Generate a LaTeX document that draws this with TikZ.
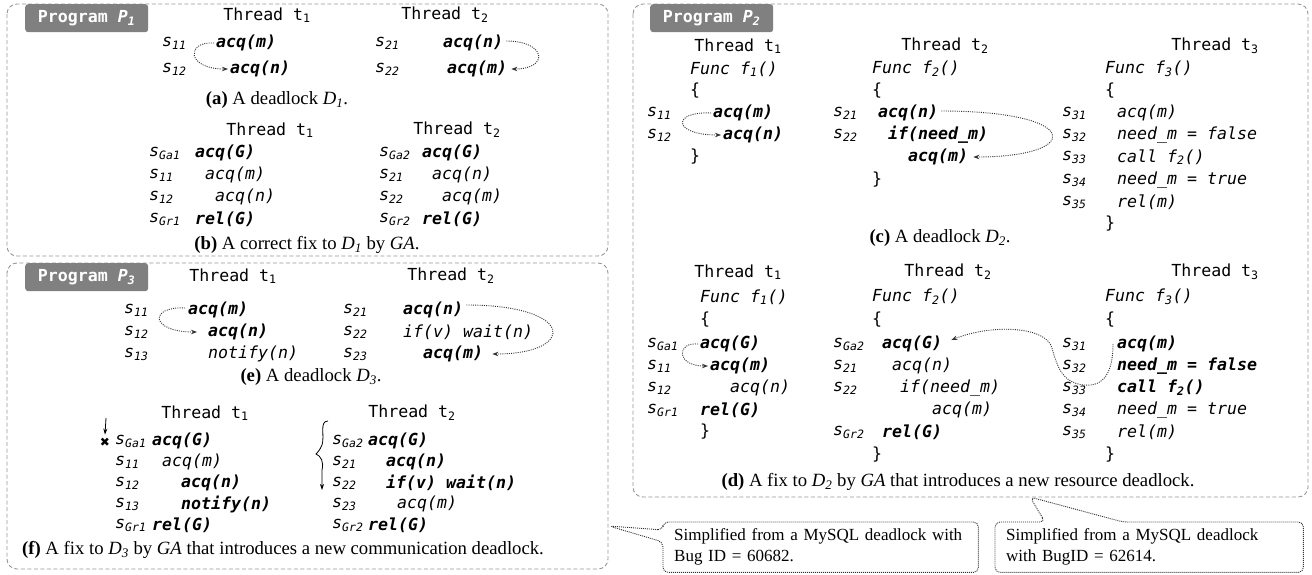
\documentclass[tikz,border=0pt]{standalone}
\usepackage{fontspec}
\setmainfont{Liberation Serif}
\setmonofont{DejaVu Sans Mono}
\newfontfamily\symbfont{DejaVu Sans}
\usetikzlibrary{arrows.meta,calc}

\definecolor{tagGray}{RGB}{128,128,128}
\definecolor{frameGray}{RGB}{150,150,150}
\definecolor{dotGray}{RGB}{50,50,50}

\newcommand\codesize{\fontsize{16.6}{20}\selectfont}
\newcommand\cdS[1]{\textit{s}\raisebox{-3pt}{\fontsize{11.5}{12}\selectfont\itshape #1}}
\newcommand\cdB[1]{\textbf{\textit{#1}}}
\newcommand\cdI[1]{\textit{#1}}
\newcommand\thrd[1]{Thread t\textsubscript{#1}}
\newcommand\sbi[2]{\textit{#1}\textsubscript{\textit{#2}}}

\tikzset{
  panelbox/.style={draw=frameGray, line width=0.9pt, dash pattern=on 4pt off 2.5pt, rounded corners=10pt},
  tagbox/.style={fill=tagGray, text=white, rounded corners=3pt, font=\ttfamily\codesize\bfseries,
    minimum width=123pt, minimum height=28pt, anchor=north west, inner sep=0pt},
  codenode/.style={font=\ttfamily\codesize, inner sep=0pt, anchor=west},
  thnode/.style={font=\ttfamily\codesize, inner sep=0pt},
  capnode/.style={font=\fontsize{18.7}{22}\selectfont, inner sep=0pt},
  dep/.style={draw=dotGray, line width=0.9pt, dash pattern=on 1pt off 1.2pt, -{Stealth[length=6pt,width=4.5pt]}},
  ptr/.style={draw=black, line width=0.8pt, -{Stealth[length=6pt,width=4pt]}},
  notebox/.style={font=\fontsize{17}{21}\selectfont, align=left, anchor=north west, inner xsep=11pt,
    inner ysep=0pt},
  noteline/.style={draw=dotGray, line width=0.9pt, dash pattern=on 1pt off 1pt, rounded corners=5pt},
}

\begin{document}
\begin{tikzpicture}[x=1pt,y=-1pt]
\useasboundingbox (0,0) rectangle (1312,574);

% ================= Program P1 =================
\draw[panelbox] (7,4) rectangle (608,256);
\node[tagbox] (tagA) at (25,4) {Program \sbi{P}{1}};

% (a) deadlock D1
\node[thnode] (a-th1) at (267,15) {\thrd{1}};
\node[thnode] (a-th2) at (445,15) {\thrd{2}};
\node[codenode] (a-s11) at (162,43) {\cdS{11}};
\node[codenode] (a-s12) at (162,69) {\cdS{12}};
\node[codenode] (a-m1) at (216,43) {\cdB{acq(m)}};
\node[codenode] (a-n1) at (230,69) {\cdB{acq(n)}};
\node[codenode] (a-s21) at (375,43) {\cdS{21}};
\node[codenode] (a-s22) at (375,69) {\cdS{22}};
\node[codenode] (a-n2) at (443,43) {\cdB{acq(n)}};
\node[codenode] (a-m2) at (447,69) {\cdB{acq(m)}};
\draw[dep] ([xshift=-2pt]a-m1.west) .. controls +(-28,-2) and +(-42,0) .. ([xshift=-2pt]a-n1.west);
\draw[dep] ([xshift=3pt,yshift=2pt]a-n2.east) .. controls +(40,0) and +(38,0) .. ([xshift=4pt]a-m2.east);
\node[capnode] (a-cap) at (277,100) {\textbf{(a)} A deadlock \textit{D}\textsubscript{\textit{1}}.};

% (b) correct fix by GA
\node[thnode] (b-th1) at (270,130) {\thrd{1}};
\node[thnode] (b-th2) at (457,130) {\thrd{2}};
\node[codenode] (b-sa1) at (149,153) {\cdS{Ga1}};
\node[codenode] (b-s11) at (149,175) {\cdS{11}};
\node[codenode] (b-s12) at (149,197) {\cdS{12}};
\node[codenode] (b-sr1) at (149,219) {\cdS{Gr1}};
\node[codenode] (b-g1) at (195,153) {\cdB{acq(G)}};
\node[codenode] (b-m1) at (205,175) {\cdI{acq(m)}};
\node[codenode] (b-n1) at (215,197) {\cdI{acq(n)}};
\node[codenode] (b-r1) at (195,219) {\cdB{rel(G)}};
\node[codenode] (b-sa2) at (379,153) {\cdS{Ga2}};
\node[codenode] (b-s21) at (379,175) {\cdS{21}};
\node[codenode] (b-s22) at (379,197) {\cdS{22}};
\node[codenode] (b-sr2) at (379,219) {\cdS{Gr2}};
\node[codenode] (b-g2) at (422,153) {\cdB{acq(G)}};
\node[codenode] (b-n2) at (432,175) {\cdI{acq(n)}};
\node[codenode] (b-m2) at (442,197) {\cdI{acq(m)}};
\node[codenode] (b-r2) at (422,219) {\cdB{rel(G)}};
\node[capnode] (b-cap) at (307,245) {\textbf{(b)} A correct fix to \textit{D}\textsubscript{\textit{1}} by \textit{GA}.};

% ================= Program P3 =================
\draw[panelbox] (7,263) rectangle (608,569);
\node[tagbox] (tagC) at (25,263) {Program \sbi{P}{3}};

% (e) deadlock D3
\node[thnode] (e-th1) at (233,276) {\thrd{1}};
\node[thnode] (e-th2) at (451,276) {\thrd{2}};
\node[codenode] (e-s11) at (124,310) {\cdS{11}};
\node[codenode] (e-s12) at (124,332) {\cdS{12}};
\node[codenode] (e-s13) at (124,354) {\cdS{13}};
\node[codenode] (e-m1) at (188,310) {\cdB{acq(m)}};
\node[codenode] (e-n1) at (208,332) {\cdB{acq(n)}};
\node[codenode] (e-nt) at (208,354) {\cdI{notify(n)}};
\node[codenode] (e-s21) at (343,310) {\cdS{21}};
\node[codenode] (e-s22) at (343,332) {\cdS{22}};
\node[codenode] (e-s23) at (343,354) {\cdS{23}};
\node[codenode] (e-n2) at (403,310) {\cdB{acq(n)}};
\node[codenode] (e-wt) at (403,332) {\cdI{if(v) wait(n)}};
\node[codenode] (e-m2) at (423,354) {\cdB{acq(m)}};
\draw[dep] ([xshift=-3pt,yshift=2pt]e-m1.west) .. controls +(-36,-2) and +(-47,0) .. ([xshift=-11pt]e-n1.west);
\draw[dep] ([xshift=3pt,yshift=5pt]e-n2.east) .. controls +(110,0) and +(84,0) .. ([xshift=9pt]e-m2.east);
\node[capnode] (e-cap) at (311,377) {\textbf{(e)} A deadlock \textit{D}\textsubscript{\textit{3}}.};

% (f) fix by GA introducing a communication deadlock
\node[thnode] (f-th1) at (205,413) {\thrd{1}};
\node[thnode] (f-th2) at (412,413) {\thrd{2}};
\node[font=\symbfont\fontsize{12}{12}\selectfont, inner sep=0pt] (f-x) at (105,442) {✖};
\coordinate (f-dn) at (106,418);
\draw[ptr] (f-dn) -- ([yshift=3pt]f-x.north);
\node[codenode] (f-sa1) at (115,441) {\cdS{Ga1}};
\node[codenode] (f-s11) at (115,462) {\cdS{11}};
\node[codenode] (f-s12) at (115,483) {\cdS{12}};
\node[codenode] (f-s13) at (115,504) {\cdS{13}};
\node[codenode] (f-sr1) at (115,525) {\cdS{Gr1}};
\node[codenode] (f-g1) at (152,441) {\cdB{acq(G)}};
\node[codenode] (f-m1) at (162,462) {\cdI{acq(m)}};
\node[codenode] (f-n1) at (181,483) {\cdB{acq(n)}};
\node[codenode] (f-nt) at (181,504) {\cdB{notify(n)}};
\node[codenode] (f-r1) at (152,525) {\cdB{rel(G)}};
\node[codenode] (f-sa2) at (332,441) {\cdS{Ga2}};
\node[codenode] (f-s21) at (332,462) {\cdS{21}};
\node[codenode] (f-s22) at (332,483) {\cdS{22}};
\node[codenode] (f-s23) at (332,504) {\cdS{23}};
\node[codenode] (f-sr2) at (332,525) {\cdS{Gr2}};
\node[codenode] (f-g2) at (368,441) {\cdB{acq(G)}};
\node[codenode] (f-n2) at (386,462) {\cdB{acq(n)}};
\node[codenode] (f-wt) at (386,483) {\cdB{if(v) wait(n)}};
\node[codenode] (f-m2) at (397,504) {\cdI{acq(m)}};
\node[codenode] (f-r2) at (368,525) {\cdB{rel(G)}};
\coordinate (f-wv) at (328,421);
\coordinate (f-wv-end) at (322,490);
\draw[ptr] (f-wv) .. controls (319,421) and (325,436) .. (322,445)
  .. controls (320,450) and (317,453) .. (316,454)
  .. controls (321,456) and (324,462) .. (322,470) -- (f-wv-end);
\node[capnode] (f-cap) at (283,550) {\textbf{(f)} A fix to \textit{D}\textsubscript{\textit{3}} by \textit{GA} that introduces a new communication deadlock.};

% ================= Program P2 =================
\draw[panelbox] (633,4) rectangle (1308,497);
\node[tagbox] (tagB) at (650,4) {Program \sbi{P}{2}};

% (c) deadlock D2
\node[thnode] (c-th1) at (738,46) {\thrd{1}};
\node[thnode] (c-th2) at (945,46) {\thrd{2}};
\node[thnode] (c-th3) at (1215,46) {\thrd{3}};
% thread t1
\node[codenode] (c1-fn) at (690,69) {\cdI{Func \sbi{f}{1}()}};
\node[codenode] (c1-ob) at (690,91) {\{};
\node[codenode] (c1-s11) at (647,113) {\cdS{11}};
\node[codenode] (c1-s12) at (647,135) {\cdS{12}};
\node[codenode] (c1-m) at (713,113) {\cdB{acq(m)}};
\node[codenode] (c1-n) at (723,135) {\cdB{acq(n)}};
\node[codenode] (c1-cb) at (690,157) {\}};
\draw[dep] ([xshift=-2pt]c1-m.west) .. controls +(-39,-2) and +(-49,0) .. ([xshift=-2pt]c1-n.west);
% thread t2
\node[codenode] (c2-fn) at (872,69) {\cdI{Func \sbi{f}{2}()}};
\node[codenode] (c2-ob) at (872,91) {\{};
\node[codenode] (c2-s21) at (833,113) {\cdS{21}};
\node[codenode] (c2-s22) at (833,135) {\cdS{22}};
\node[codenode] (c2-n) at (878,113) {\cdB{acq(n)}};
\node[codenode] (c2-if) at (888,135) {\cdB{if(need\_m)}};
\node[codenode] (c2-m) at (908,157) {\cdB{acq(m)}};
\node[codenode] (c2-cb) at (872,180) {\}};
\draw[dep] ([xshift=3pt,yshift=2pt]c2-n.east) .. controls +(142,0) and +(110,0) .. ([xshift=5pt]c2-m.east);
% thread t3
\node[codenode] (c3-fn) at (1105,69) {\cdI{Func \sbi{f}{3}()}};
\node[codenode] (c3-ob) at (1105,91) {\{};
\node[codenode] (c3-s31) at (1062,113) {\cdS{31}};
\node[codenode] (c3-s32) at (1062,135) {\cdS{32}};
\node[codenode] (c3-s33) at (1062,157) {\cdS{33}};
\node[codenode] (c3-s34) at (1062,180) {\cdS{34}};
\node[codenode] (c3-s35) at (1062,202) {\cdS{35}};
\node[codenode] (c3-1) at (1117,113) {\cdI{acq(m)}};
\node[codenode] (c3-2) at (1117,135) {\cdI{need\_m = false}};
\node[codenode] (c3-3) at (1117,157) {\cdI{call \sbi{f}{2}()}};
\node[codenode] (c3-4) at (1117,180) {\cdI{need\_m = true}};
\node[codenode] (c3-5) at (1117,202) {\cdI{rel(m)}};
\node[codenode] (c3-cb) at (1105,224) {\}};
\node[capnode] (c-cap) at (940,238) {\textbf{(c)} A deadlock \textit{D}\textsubscript{\textit{2}}.};

% (d) fix by GA introducing a resource deadlock
\node[thnode] (d-th1) at (738,272) {\thrd{1}};
\node[thnode] (d-th2) at (948,272) {\thrd{2}};
\node[thnode] (d-th3) at (1215,272) {\thrd{3}};
% thread t1
\node[codenode] (d1-fn) at (700,297) {\cdI{Func \sbi{f}{1}()}};
\node[codenode] (d1-ob) at (700,320) {\{};
\node[codenode] (d1-sa1) at (647,344) {\cdS{Ga1}};
\node[codenode] (d1-s11) at (647,366) {\cdS{11}};
\node[codenode] (d1-s12) at (647,388) {\cdS{12}};
\node[codenode] (d1-sr1) at (647,410) {\cdS{Gr1}};
\node[codenode] (d1-g) at (700,344) {\cdB{acq(G)}};
\node[codenode] (d1-m) at (710,366) {\cdB{acq(m)}};
\node[codenode] (d1-n) at (730,388) {\cdI{acq(n)}};
\node[codenode] (d1-r) at (700,410) {\cdB{rel(G)}};
\node[codenode] (d1-cb) at (700,432) {\}};
\draw[dep] ([xshift=-2pt]d1-g.west) .. controls +(-22,-2) and +(-32,0) .. ([xshift=-2pt]d1-m.west);
% thread t2
\node[codenode] (d2-fn) at (872,297) {\cdI{Func \sbi{f}{2}()}};
\node[codenode] (d2-ob) at (872,320) {\{};
\node[codenode] (d2-sa2) at (833,344) {\cdS{Ga2}};
\node[codenode] (d2-s21) at (833,366) {\cdS{21}};
\node[codenode] (d2-s22) at (833,388) {\cdS{22}};
\node[codenode] (d2-sr2) at (833,432) {\cdS{Gr2}};
\node[codenode] (d2-g) at (882,344) {\cdB{acq(G)}};
\node[codenode] (d2-n) at (892,366) {\cdI{acq(n)}};
\node[codenode] (d2-if) at (900,388) {\cdI{if(need\_m)}};
\node[codenode] (d2-m) at (932,410) {\cdI{acq(m)}};
\node[codenode] (d2-r) at (882,432) {\cdB{rel(G)}};
\node[codenode] (d2-cb) at (872,455) {\}};
% thread t3
\node[codenode] (d3-fn) at (1105,297) {\cdI{Func \sbi{f}{3}()}};
\node[codenode] (d3-ob) at (1105,320) {\{};
\node[codenode] (d3-s31) at (1062,344) {\cdS{31}};
\node[codenode] (d3-s32) at (1062,366) {\cdS{32}};
\node[codenode] (d3-s33) at (1062,388) {\cdS{33}};
\node[codenode] (d3-s34) at (1062,410) {\cdS{34}};
\node[codenode] (d3-s35) at (1062,432) {\cdS{35}};
\node[codenode] (d3-1) at (1117,344) {\cdB{acq(m)}};
\node[codenode] (d3-2) at (1117,366) {\cdB{need\_m = false}};
\node[codenode] (d3-3) at (1117,388) {\cdB{call \sbi{f}{2}()}};
\node[codenode] (d3-4) at (1117,410) {\cdI{need\_m = true}};
\node[codenode] (d3-5) at (1117,432) {\cdI{rel(m)}};
\node[codenode] (d3-cb) at (1105,455) {\}};
\coordinate (d-low) at (1084,385);
\coordinate (d-mid) at (1052,348);
\draw[dep] ([xshift=-4pt]d3-1.west) .. controls +(0,28) and +(20,2) .. (d-low)
  .. controls +(-20,-2) and +(6,22) .. (d-mid)
  .. controls +(-6,-22) and +(40,-16) .. ([xshift=9pt,yshift=4pt]d2-g.east);
\node[capnode] (d-cap) at (958,482) {\textbf{(d)} A fix to \textit{D}\textsubscript{\textit{2}} by \textit{GA} that introduces a new resource deadlock.};

% ================= source notes =================
\node[notebox, text width=293pt, minimum height=50pt] (note1) at (663,522)
  {Simplified from a MySQL deadlock with\\Bug ID = 60682.};
\node[notebox, text width=286pt, minimum height=50pt] (note2) at (995,522)
  {Simplified from a MySQL deadlock\\with BugID = 62614.};
\coordinate (tip1) at (609,526);
\coordinate (tip2) at (1030,497);
\draw[noteline] ($(note1.north west)+(0,8)$) -- (tip1) -- ($(note1.north west)+(0,20)$)
  -- (note1.south west) -- (note1.south east) -- (note1.north east) -- (note1.north west) -- cycle;
\draw[noteline] ($(note2.north west)+(50,0)$) -- (tip2) -- ($(note2.north west)+(128,0)$)
  -- (note2.north east) -- (note2.south east) -- (note2.south west) -- (note2.north west) -- cycle;
\end{tikzpicture}
\end{document}
